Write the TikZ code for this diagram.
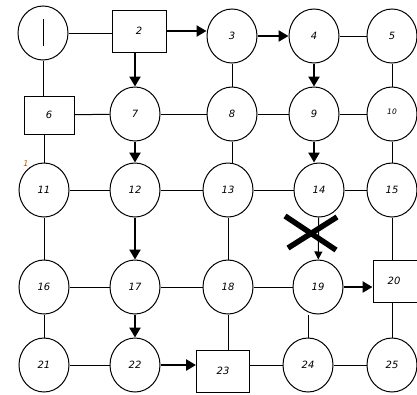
\documentclass[tikz,border=0pt]{standalone}
\usepackage{fontspec}
\setmainfont{DejaVu Sans}
\usetikzlibrary{shapes.geometric,arrows.meta}
\begin{document}
\begin{tikzpicture}[x=1pt,y=-1pt,
  lblfont/.style={font=\fontsize{10}{11}\selectfont\itshape},
  circ/.style={ellipse,draw,line width=1pt,minimum width=50pt,minimum height=54pt,inner sep=0pt,lblfont},
  box/.style={rectangle,draw,line width=1pt,inner sep=0pt,lblfont},
  ln/.style={line width=1pt},
  thick arrow/.style={line width=2.8pt,-{Triangle[length=10pt,width=11pt]}},
  thin arrow/.style={line width=1pt,-{Triangle[length=8pt,width=8pt]}}]
\useasboundingbox (0,0) rectangle (417,394);
\fill[white] (0,0) rectangle (417,394);
% row 1
\node[circ] (n1) at (43,33) {};
\draw[ln] ([yshift=-13pt]n1.center) -- ([yshift=14pt]n1.center);
\node[box,minimum width=54pt,minimum height=42pt] (n2) at (139,31) {2};
\node[circ] (n3) at (232,36) {3};
\node[circ] (n4) at (314,36) {4};
\node[circ] (n5) at (392,36) {5};
% row 2
\node[box,minimum width=50pt,minimum height=38pt] (n6) at (49,115) {6};
\node[circ] (n7) at (135,114) {7};
\node[circ] (n8) at (232,114) {8};
\node[circ] (n9) at (314,114) {9};
\node[circ,font=\fontsize{7.5}{8}\selectfont\itshape,text depth=5pt] (n10) at (392,114) {10};
% row 3
\node[circ] (n11) at (44,190) {11};
\node[circ] (n12) at (135,190) {12};
\node[circ] (n13) at (228,190) {13};
\node[circ] (n14) at (319,190) {14};
\node[circ] (n15) at (392,190) {15};
% row 4
\node[circ] (n16) at (44,287) {16};
\node[circ] (n17) at (135,287) {17};
\node[circ] (n18) at (228,287) {18};
\node[circ] (n19) at (318,287) {19};
\node[box,minimum width=46pt,minimum height=42pt] (n20) at (396,281) {\hspace*{-4pt}20};
% row 5
\node[circ] (n21) at (44,365) {21};
\node[circ] (n22) at (135,365) {22};
\node[box,minimum width=53pt,minimum height=42pt] (n23) at (223,371) {23};
\node[circ] (n24) at (308,365) {24};
\node[circ] (n25) at (392,365) {25};
% small label
\node[font=\fontsize{8}{9}\selectfont\itshape,text=orange!70!black,inner sep=0pt] (lbl1) at (26,164) {1};
% plain lines
\draw[ln] (n1.east) -- (n2.west |- n1.east);
\draw[ln] (n1.south) -- (n6.north -| n1.south);
\draw[ln] (n4) -- (n5);
\draw[ln] (n3) -- (n8);
\draw[ln] (n5) -- (n10);
\draw[ln] (n6) -- (n7);
\draw[ln] (n7) -- (n8);
\draw[ln] (n8) -- (n9);
\draw[ln] (n9) -- (n10);
\draw[ln] (n6.south -| n11.north) -- (n11.north);
\draw[ln] (n8.south) -- (n13.north -| n8.south);
\draw[ln] (n10) -- (n15);
\draw[ln] (n11) -- (n12);
\draw[ln] (n12) -- (n13);
\draw[ln] (n13) -- (n14);
\draw[ln] (n14) -- (n15);
\draw[ln] (n11) -- (n16);
\draw[ln] (n13) -- (n18);
\draw[ln] (n15.south) -- (n20.north -| n15.south);
\draw[ln] (n16) -- (n17);
\draw[ln] (n17) -- (n18);
\draw[ln] (n18) -- (n19);
\draw[ln] (n16) -- (n21);
\draw[ln] (n18.south) -- (n23.north -| n18.south);
\draw[ln] (n19.south -| n24.north) -- (n24.north);
\draw[ln] (n20.south -| n25.north) -- (n25.north);
\draw[ln] (n21) -- (n22);
\draw[ln] (n23.east |- n24.west) -- (n24.west);
\draw[ln] (n24) -- (n25);
% thick arrows
\draw[thick arrow] (n2.east) -- (n3.west |- n2.east);
\draw[thick arrow] (n3) -- (n4);
\draw[thick arrow] (n2.south -| n7.north) -- (n7.north);
\draw[thick arrow] (n4) -- (n9);
\draw[thick arrow] (n7) -- (n12);
\draw[thick arrow] (n9) -- (n14.north -| n9.south);
\draw[thick arrow] (n12) -- (n17);
\draw[thick arrow] (n17) -- (n22);
\draw[thick arrow] (n19.east) -- (n20.west |- n19.east);
\draw[thick arrow] (n22) -- (n23.west |- n22.east);
\draw[thin arrow] (n14) -- (n19);
% cross mark
\coordinate (xa) at (285,216);
\coordinate (xb) at (336,250);
\coordinate (xc) at (337,217);
\coordinate (xd) at (288,248);
\draw[line width=5.5pt] (xa) -- (xb);
\draw[line width=5.5pt] (xc) -- (xd);
\end{tikzpicture}
\end{document}
